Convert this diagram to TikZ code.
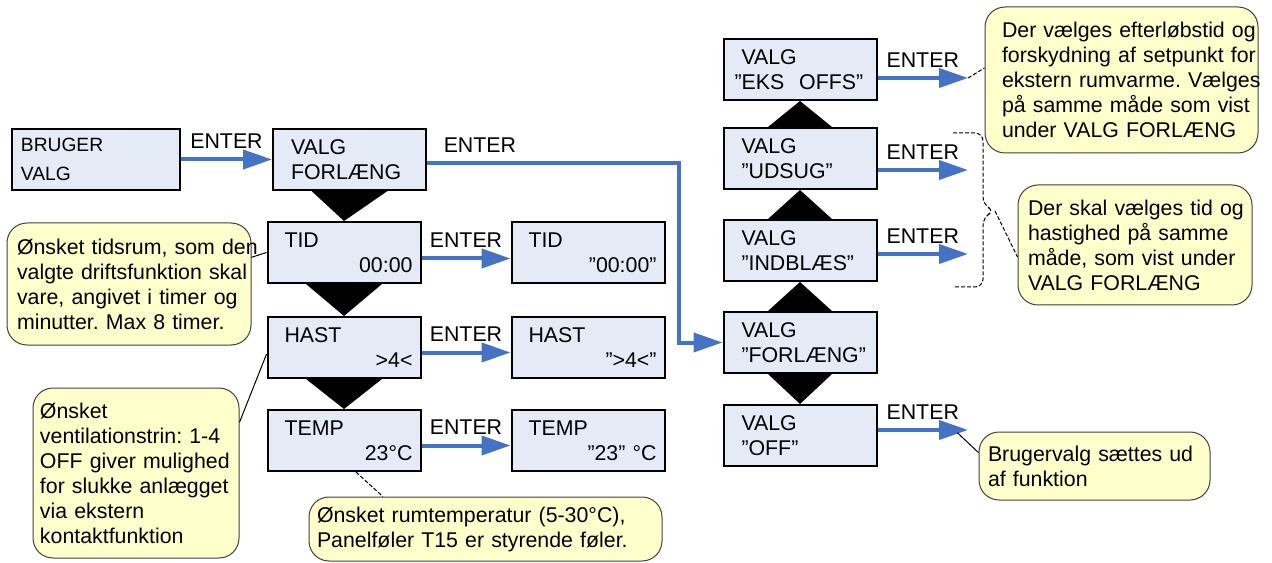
\documentclass[tikz,border=0pt]{standalone}
\usepackage{fontspec}
\setmainfont{Liberation Sans}
\usetikzlibrary{arrows.meta,positioning}
\definecolor{PanelFill}{HTML}{E4EAF6}
\definecolor{EnterBlue}{HTML}{4472C4}
\definecolor{NoteFill}{HTML}{FFFFCC}
\definecolor{NoteEdge}{HTML}{404040}
\tikzset{
  menubox/.style={
    draw=black,
    fill=PanelFill,
    line width=1.5pt,
    minimum width=114.75pt,
    minimum height=45.75pt,
    inner sep=0pt,
    text width=87.75pt,
    align=left,
    font=\fontsize{16}{18.75}\selectfont
  },
  valuebox/.style={
    menubox,
    text width=102.75pt,
    execute at begin node={\hspace*{6.75pt}}
  },
  userbox/.style={
    menubox,
    minimum width=126pt,
    text width=112.5pt,
    font=\fontsize{14.4}{21.75}\selectfont
  },
  enterflow/.style={-{Triangle[length=21.75pt,width=14.25pt]}, line width=3pt, draw=EnterBlue},
  enterlabel/.style={above=6.4pt, inner sep=0pt, font=\fontsize{16}{18.75}\selectfont},
  note/.style={
    draw=NoteEdge,
    fill=NoteFill,
    line width=0.75pt,
    rounded corners=15pt,
    inner sep=0pt,
    align=left,
    font=\fontsize{16}{18.75}\selectfont
  },
  noteline/.style={draw=black, line width=0.75pt},
  notedash/.style={noteline, dash pattern=on 3pt off 1.5pt}
}

\begin{document}
\frenchspacing
\begin{tikzpicture}[x=0.75pt, y=-0.75pt]
  \useasboundingbox (0,0) rectangle (1272,563);
  % menu for user choice
  \node[userbox] (bruger) at (96,159.5) {BRUGER\\VALG};
  \node[menubox, right=68.25pt of bruger] (forl) {VALG\\FORLÆNG};
  \node[valuebox, below=22.5pt of forl, xshift=-4.125pt] (tid) {TID\\\hspace*{\fill}00:00};
  \node[valuebox, below=24pt of tid] (hast) {HAST\\\hspace*{\fill}>4<\hspace*{5.5pt}};
  \node[valuebox, below=22.5pt of hast] (temp) {TEMP\\\hspace*{\fill}23°C};
  \node[valuebox, right=66.75pt of tid] (tid2) {TID\\\hspace*{\fill}”00:00”};
  \node[valuebox, right=66.75pt of hast] (hast2) {HAST\\\hspace*{\fill}”>4<”};
  \node[valuebox, right=66.75pt of temp] (temp2) {TEMP\\\hspace*{\fill}”23” °C};
  % right column
  \node[menubox] (rforl) at (800,342.5) {VALG\\”FORLÆNG”};
  \node[menubox, above=21.75pt of rforl] (indbl) {VALG\\”INDBLÆS”};
  \node[menubox, above=21.75pt of indbl] (udsug) {VALG\\”UDSUG”};
  \node[menubox, above=19.5pt of udsug] (eks) {VALG\\\hspace*{-5.25pt}\mbox{”EKS\hspace{0.7em}OFFS”}};
  \node[menubox, below=22.5pt of rforl] (off) {VALG\\”OFF”};

  \foreach \a/\b in {forl/tid, tid/hast, hast/temp}
    \fill ([xshift=-28.5pt]\a.south) -- ([xshift=28.5pt]\a.south) -- (\b.north) -- cycle;
  \foreach \a/\b in {udsug/eks, indbl/udsug, rforl/indbl}
    \fill ([xshift=-24pt]\a.north) -- ([xshift=24pt]\a.north) -- (\b.south) -- cycle;
  \fill ([xshift=-24pt]rforl.south) -- ([xshift=24pt]rforl.south) -- (off.north) -- cycle;

  % ENTER arrows
  \draw[enterflow] (bruger) -- node[enterlabel] {ENTER} (forl);
  \draw[enterflow] ([yshift=-4.5pt]tid.east) -- node[enterlabel] {ENTER} ([yshift=-4.5pt]tid2.west);
  \draw[enterflow] ([yshift=-3.75pt]hast.east) -- node[enterlabel] {ENTER} ([yshift=-3.75pt]hast2.west);
  \draw[enterflow] ([yshift=-3.75pt]temp.east) -- node[enterlabel] {ENTER} ([yshift=-3.75pt]temp2.west);
  \coordinate (bend) at (679,342.5);
  \draw[enterflow] ([yshift=-2.6pt]forl.east) -| node[enterlabel, pos=0.105] {ENTER} (bend) -- (rforl.west);
  \coordinate (eksTip) at (968,78);
  \coordinate (udsugTip) at (968,170);
  \coordinate (indblTip) at (968,254);
  \coordinate (offTip) at (968,430);
  \draw[enterflow] (eks.east |- eksTip) -- node[enterlabel] {ENTER} (eksTip);
  \draw[enterflow] (udsug.east |- udsugTip) -- node[enterlabel] {ENTER} (udsugTip);
  \draw[enterflow] (indbl.east |- indblTip) -- node[enterlabel] {ENTER} (indblTip);
  \draw[enterflow] (off.east |- offTip) -- node[enterlabel] {ENTER} (offTip);

  % notes
  \node[note, minimum width=183pt, minimum height=91.5pt, text width=168pt] (noteTid) at (129,284)
    {\mbox{Ønsket tidsrum, som den}\\\mbox{valgte driftsfunktion skal}\\vare, angivet i timer og\\minutter. Max 8 timer.};
  \node[note, minimum width=154.5pt, minimum height=127.5pt, text width=144pt] (noteHast) at (136,473)
    {Ønsket\\ventilationstrin: 1-4\\OFF giver mulighed\\for slukke anlægget\\via ekstern\\kontaktfunktion};
  \node[note, minimum width=264.75pt, minimum height=48pt, text width=252.75pt] (noteTemp) at (485.5,529)
    {Ønsket rumtemperatur (5-30°C),\\Panelføler T15 er styrende føler.};
  \node[note, minimum width=204.75pt, minimum height=109.5pt, text width=179.25pt] (noteEks) at (1121.5,80)
    {\mbox{Der vælges efterløbstid og}\\\mbox{forskydning af setpunkt for}\\\mbox{ekstern rumvarme. Vælges}\\\mbox{på samme måde som vist}\\under VALG FORLÆNG};
  \node[note, minimum width=175.5pt, minimum height=90pt, text width=160.5pt] (noteInd) at (1135,245)
    {\mbox{Der skal vælges tid og}\\\mbox{hastighed på samme}\\\mbox{måde, som vist under}\\VALG FORLÆNG};
  \node[note, minimum width=173.25pt, minimum height=51pt, text width=159.75pt] (noteOff) at (1094.5,466)
    {\mbox{Brugervalg sættes ud}\\af funktion};

  \draw[noteline] ([yshift=20pt]noteTid.east) -- (tid.west);
  \draw[noteline] ([yshift=38pt]noteHast.east) -- ([yshift=-5pt]hast.west);
  \draw[notedash] ([xshift=9pt]temp.south) -- ([xshift=-77pt]noteTemp.north);
  \draw[notedash] (eksTip) -- ([yshift=9pt]noteEks.west);
  \coordinate (braceTip) at (995,211);
  \draw[notedash, rounded corners=6pt] (953,133) -- (983,133) -- (983,205) -- (braceTip)
    -- (983,217) -- (983,287) -- (953,287);
  \draw[notedash] (braceTip) -- ([yshift=-9pt]noteInd.west);
  \draw[noteline] ([xshift=-8pt,yshift=-2pt]offTip) -- ([yshift=10pt]noteOff.west);
\end{tikzpicture}
\end{document}
